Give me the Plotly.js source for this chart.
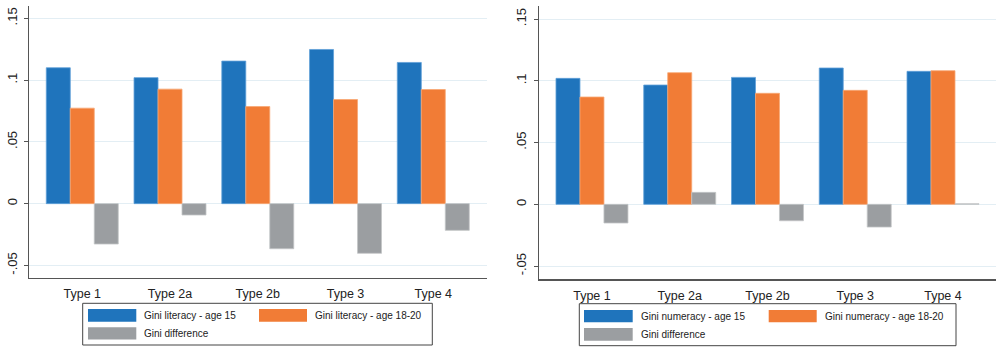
<!DOCTYPE html>
<html>
<head>
<meta charset="utf-8">
<script src="https://cdn.plot.ly/plotly-3.0.1.min.js"></script>
<style>
html,body{margin:0;padding:0;background:#fff;}
#chart{width:996px;height:348px;}
</style>
</head>
<body>
<div id="chart"></div>
<script>
// ---- data ----
var categories = ["Type 1", "Type 2a", "Type 2b", "Type 3", "Type 4"];

var literacyAge15   = [0.110, 0.102, 0.1154, 0.1248, 0.1143];
var literacyAge1820 = [0.0773, 0.0927, 0.0786, 0.0843, 0.0924];
var literacyDiff    = [-0.0327, -0.0092, -0.0365, -0.0402, -0.0216];

var numeracyAge15   = [0.102, 0.0966, 0.1028, 0.1104, 0.1077];
var numeracyAge1820 = [0.0869, 0.1066, 0.0899, 0.0923, 0.1082];
var numeracyDiff    = [-0.0151, 0.0097, -0.0133, -0.0184, 0.0005];

var literacyNames = ["Gini literacy - age 15", "Gini literacy - age 18-20", "Gini difference"];
var numeracyNames = ["Gini numeracy - age 15", "Gini numeracy - age 18-20", "Gini difference"];

var tickVals  = [-0.05, 0, 0.05, 0.1, 0.15];
var tickTexts = ["-.05", "0", ".05", ".1", ".15"];

// ---- styles ----
var colors = ["#1f74bc", "#f17c36", "#9b9ea1"];
var edge   = ["#5fa0d8", "#f7a774", "#c3c5c7"];
var W = 996, H = 348;
function px(x){ return x / W; }
function py(y){ return 1 - y / H; }

function mk(xa, ya, names, series){
  return series.map(function(vals, i){
    return {
      type: "bar", x: categories, y: vals, name: names[i],
      xaxis: xa, yaxis: ya, showlegend: false, hoverinfo: "x+y+name",
      marker: {color: colors[i], line: {color: edge[i], width: 0.8}}
    };
  });
}

var data = mk("x", "y", literacyNames, [literacyAge15, literacyAge1820, literacyDiff])
  .concat(mk("x2", "y2", numeracyNames, [numeracyAge15, numeracyAge1820, numeracyDiff]));

function yax(domain, range){
  return {
    domain: domain, range: range, tickvals: tickVals, ticktext: tickTexts,
    tickangle: -90, ticks: "outside", ticklen: 4, tickwidth: 1, tickcolor: "#555",
    showline: true, linecolor: "#555", linewidth: 1.2,
    showgrid: true, gridcolor: "#e3eef4", gridwidth: 1, zeroline: false,
    tickfont: {family: "Liberation Sans, Arial, sans-serif", size: 13, color: "#222"},
    ticklabelstandoff: 2, fixedrange: true
  };
}
function xax(domain, range, anchor){
  return {
    domain: domain, range: range, anchor: anchor, type: "category",
    showline: true, linecolor: "#555", linewidth: 1.2, ticks: "",
    showgrid: false, zeroline: false,
    tickfont: {family: "Liberation Sans, Arial, sans-serif", size: 12.5, color: "#222"},
    ticklabelstandoff: 4, fixedrange: true
  };
}

// ---- custom legends (shapes + annotations) ----
var shapes = [], annotations = [];
function legend(box, sw, txt, names){
  shapes.push({type: "rect", xref: "paper", yref: "paper",
    x0: px(box[0]), x1: px(box[1]), y0: py(box[3]), y1: py(box[2]),
    line: {color: "#444", width: 1}, fillcolor: "rgba(0,0,0,0)"});
  sw.forEach(function(s, i){
    shapes.push({type: "rect", xref: "paper", yref: "paper",
      x0: px(s[0]), x1: px(s[1]), y0: py(s[3]), y1: py(s[2]),
      line: {width: 0}, fillcolor: colors[i]});
    annotations.push({xref: "paper", yref: "paper", x: px(txt[i][0]), y: py(txt[i][1]),
      xanchor: "left", yanchor: "middle", showarrow: false, text: names[i],
      font: {family: "Liberation Sans, Arial, sans-serif", size: 10, color: "#222"}});
  });
}
legend([82.7, 432.3, 303.3, 345],
  [[88, 136.3, 309, 321.7], [259, 307, 309, 321.7], [88, 136.3, 327.3, 339.5]],
  [[142, 315.5], [313, 315.5], [142, 333.5]], literacyNames);
legend([579.3, 956, 303.7, 345.7],
  [[584, 632.7, 310, 322.3], [768.7, 816.7, 310, 322.3], [584, 632.7, 328, 340.7]],
  [[638.5, 316], [822.5, 316], [638.5, 334]], numeracyNames);

var layout = {
  width: W, height: H,
  margin: {l: 0, r: 0, t: 0, b: 0},
  paper_bgcolor: "#fff", plot_bgcolor: "#fff",
  barmode: "group", bargap: 0.18, bargroupgap: 0,
  showlegend: false,
  xaxis: xax([px(29), px(487)], [-0.607, 4.612], "y"),
  yaxis: yax([py(278), py(6)], [-0.0602, 0.160]),
  xaxis2: xax([px(538.7), 1], [-0.607, 4.604], "y2"),
  yaxis2: Object.assign(yax([py(279.3), py(6)], [-0.0607, 0.1606]), {anchor: "x2"}),
  shapes: shapes, annotations: annotations
};
layout.yaxis.anchor = "x";

Plotly.newPlot("chart", data, layout, {displayModeBar: false, staticPlot: true});
</script>
</body>
</html>
